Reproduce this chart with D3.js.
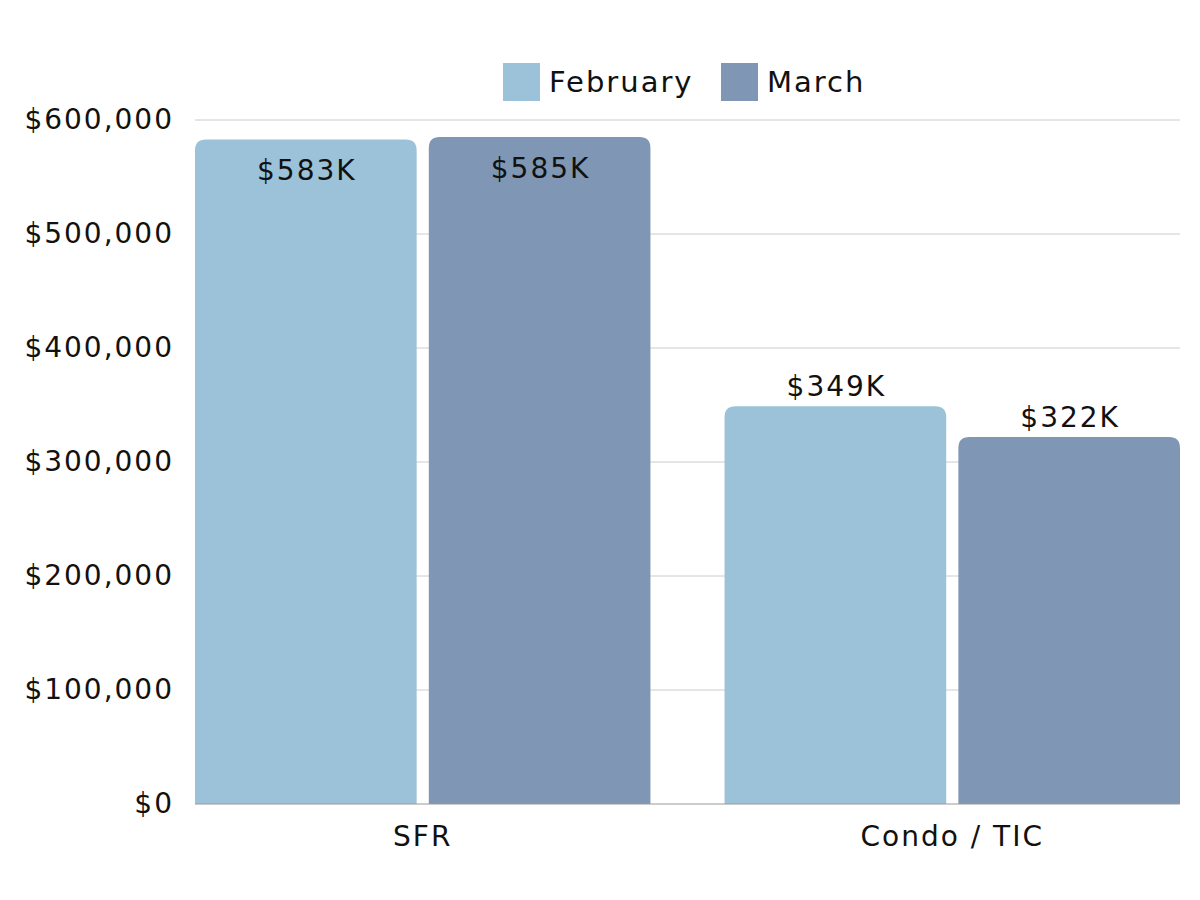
<!DOCTYPE html>
<html>
<head>
<meta charset="utf-8">
<script src="https://cdn.jsdelivr.net/npm/d3@7"></script>
<style>
  body { margin: 0; background: #fff; }
  text { font-family: "DejaVu Sans", sans-serif; fill: #111; letter-spacing: 2px; }
</style>
</head>
<body>
<svg id="chart"></svg>
<script>
var categories = ['SFR', 'Condo / TIC'];
var seriesNames = ['February', 'March'];
var february = [583000, 349000];
var march = [585000, 322000];
var seriesValues = [february, march];
var yTicks = [0, 100000, 200000, 300000, 400000, 500000, 600000];
var colors = ['#9bc2d8', '#7f97b4'];

function createGroupedBarChart(w, h) {
  var margin = {top: 120, right: 20, bottom: 96, left: 195},
    width = w - margin.left - margin.right,
    height = h - margin.top - margin.bottom;

  var svg = d3.select('#chart')
    .attr('width', w)
    .attr('height', h);

  var x0 = d3.scaleBand().domain(categories).range([0, width]).paddingInner(0.14).paddingOuter(0);
  var x1 = d3.scaleBand().domain(seriesNames).range([0, x0.bandwidth()]).paddingInner(0.052);
  var y = d3.scaleLinear().domain([0, 600000]).range([height, 0]);

  var g = svg.append('g')
    .attr('transform', 'translate(' + margin.left + ',' + margin.top + ')');

  // gridlines
  g.selectAll('.grid')
    .data(yTicks.slice(1))
    .enter().append('line')
    .attr('x1', 0)
    .attr('x2', width)
    .attr('y1', function(d) { return y(d); })
    .attr('y2', function(d) { return y(d); })
    .attr('stroke', '#cccccc')
    .attr('stroke-width', 1);

  var yAxis = d3.axisLeft(y)
    .tickValues(yTicks)
    .tickSize(0)
    .tickPadding(21)
    .tickFormat(function(d) { return '$' + d3.format(',')(d); });
  var ya = g.append('g').call(yAxis);
  ya.select('.domain').remove();
  ya.selectAll('text').style('font-size', '28px').attr('fill', '#111');

  var pairs = [];
  categories.forEach(function(c, i) {
    seriesNames.forEach(function(s, j) {
      pairs.push({cat: c, series: s, value: seriesValues[j][i], color: colors[j]});
    });
  });

  var r = 11;
  function barPath(d) {
    var bx = x0(d.cat) + x1(d.series), bw = x1.bandwidth();
    var by = y(d.value), bb = y(0);
    return 'M' + bx + ',' + bb +
      'V' + (by + r) +
      'Q' + bx + ',' + by + ' ' + (bx + r) + ',' + by +
      'H' + (bx + bw - r) +
      'Q' + (bx + bw) + ',' + by + ' ' + (bx + bw) + ',' + (by + r) +
      'V' + bb + 'Z';
  }

  g.selectAll('.bar')
    .data(pairs)
    .enter().append('path')
    .attr('class', 'bar')
    .attr('d', barPath)
    .attr('fill', function(d) { return d.color; });

  g.selectAll('.lbl')
    .data(pairs)
    .enter().append('text')
    .attr('class', 'lbl')
    .attr('x', function(d) { return x0(d.cat) + x1(d.series) + x1.bandwidth() / 2 + 1; })
    .attr('y', function(d) {
      var top = y(d.value);
      return top < 60 ? top + 41 : top - 10;
    })
    .attr('text-anchor', 'middle')
    .style('font-size', '28px')
    .text(function(d) { return '$' + Math.round(d.value / 1000) + 'K'; });

  // baseline
  g.append('line')
    .attr('x1', 0).attr('x2', width)
    .attr('y1', y(0)).attr('y2', y(0))
    .attr('stroke', '#999').attr('stroke-width', 1);

  var xAxis = d3.axisBottom(x0).tickSize(0).tickPadding(22);
  var xa = g.append('g')
    .attr('transform', 'translate(0,' + height + ')')
    .call(xAxis);
  xa.select('.domain').remove();
  xa.selectAll('text').style('font-size', '28px').attr('fill', '#111');

  // legend
  var legendX = [503, 721];
  var leg = svg.selectAll('.leg')
    .data(seriesNames)
    .enter().append('g')
    .attr('transform', function(d, i) { return 'translate(' + legendX[i] + ',63)'; });
  leg.append('rect')
    .attr('width', 37).attr('height', 38)
    .attr('fill', function(d, i) { return colors[i]; });
  leg.append('text')
    .attr('x', 46).attr('y', 29)
    .style('font-size', '29px')
    .text(function(d) { return d; });
}

createGroupedBarChart(1200, 900);
</script>
</body>
</html>
